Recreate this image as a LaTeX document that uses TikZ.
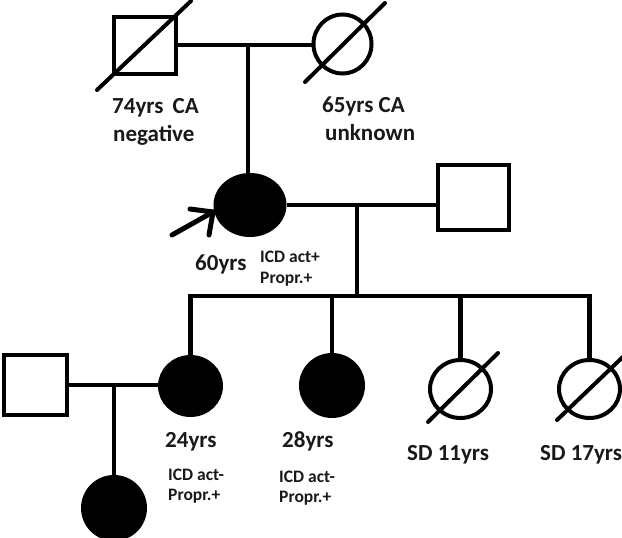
\documentclass[tikz,border=0pt]{standalone}
\usepackage{fontspec}
\setmainfont{Carlito}
\usetikzlibrary{shapes.geometric,calc}
\begin{document}
\begin{tikzpicture}[x=1pt,y=-1pt,
  sq/.style={draw,rectangle,line width=4pt,inner sep=0pt,fill=white},
  fem/.style={draw,ellipse,line width=4pt,inner sep=0pt,fill=white},
  aff/.style={draw,ellipse,line width=4pt,inner sep=0pt,fill=black},
  link/.style={line width=4.5pt,line join=miter},
  slash/.style={line width=4pt,line cap=round},
  lbl/.style={font=\bfseries\fontsize{23}{28}\selectfont,anchor=base west,inner sep=0pt,text=black!90},
  sml/.style={font=\bfseries\fontsize{17.5}{20}\selectfont,anchor=base west,inner sep=0pt,text=black!90}
]
\useasboundingbox (0,0) rectangle (622,538);

% coordinates for line junctions
\coordinate (m1) at (248,45);
\coordinate (m2) at (357,205);
\coordinate (sib) at (357,296);
\coordinate (m3) at (114,385);
\coordinate (at) at (172,235);
\coordinate (ah) at (213,212);

% connectors (drawn first, nodes on top)
\draw[link] (m1) -- (m1 |- 0,205);
\draw[link] (m2) -- (sib);
\draw[link] (190.5,386) -- (190.5,296) -- (589.5,296) -- (589.5,389);
\draw[link] (332,296) -- (332,385);
\draw[link] (460.5,296) -- (460.5,389);
\draw[link] (m3) -- (114,508);

% individuals
\node[sq,minimum width=62pt,minimum height=57pt] (gf) at (145,45) {};
\node[fem,minimum width=58pt,minimum height=59pt] (gm) at (342.5,44) {};
\node[aff,minimum width=69pt,minimum height=60pt] (pb) at (250,205) {};
\node[sq,minimum width=71pt,minimum height=65pt] (hb) at (473.5,197.5) {};
\node[sq,minimum width=63pt,minimum height=60pt] (hb2) at (35.5,385) {};
\node[aff,minimum width=61pt,minimum height=58pt] (d24) at (190.5,386) {};
\node[aff,minimum width=62pt,minimum height=61pt] (d28) at (332,385.5) {};
\node[aff,minimum width=62pt,minimum height=62pt] (gc) at (114,508) {};
\node[fem,minimum width=61pt,minimum height=58pt] (s11) at (460.5,389) {};
\node[fem,minimum width=61pt,minimum height=58pt] (s17) at (589.5,389) {};

% couple lines
\draw[link] (gf.east) -- (gf.east -| gm.west);
\draw[link] (pb.east) -- (pb.east -| hb.west);
\draw[link] (hb2.east) -- (hb2.east -| d24.west);

% deceased slashes
\draw[slash] ($(gf)+(-48,45)$) -- ($(gf)+(46,-44)$);
\draw[slash] ($(gm)+(-37.5,38)$) -- ($(gm)+(42.5,-41)$);
\draw[slash] ($(s11)+(-32.5,33)$) -- ($(s11)+(37.5,-36)$);
\draw[slash] ($(s17)+(-32.5,31)$) -- ($(s17)+(37.5,-36)$);

% proband arrow
\draw[line width=5pt,line cap=round] (at) -- (ah);
\draw[line width=5pt,line cap=round,line join=round] ($(ah)+(-23,-3)$) -- (ah) -- ($(ah)+(-4,23)$);

% labels
\node[lbl] (t1a) at (112,113) {74yrs\hspace{4pt} CA};
\node[lbl] (t1b) at (113,141) {negative};
\node[lbl] (t2a) at (322,112) {65yrs CA};
\node[lbl] (t2b) at (325,140) {unknown};
\node[lbl] (t3) at (195,270) {60yrs};
\node[sml] (t3a) at (260,262) {ICD act+};
\node[sml] (t3b) at (260,283) {Propr.+};
\node[lbl] (t4) at (165,447) {24yrs};
\node[sml] (t4a) at (168,480) {ICD act-};
\node[sml] (t4b) at (168,500) {Propr.+};
\node[lbl] (t5) at (282,447) {28yrs};
\node[sml] (t5a) at (279,482) {ICD act-};
\node[sml] (t5b) at (279,502) {Propr.+};
\node[lbl] (t6) at (407,460) {SD 11yrs};
\node[lbl] (t7) at (540,460) {SD 17yrs};
\end{tikzpicture}
\end{document}
